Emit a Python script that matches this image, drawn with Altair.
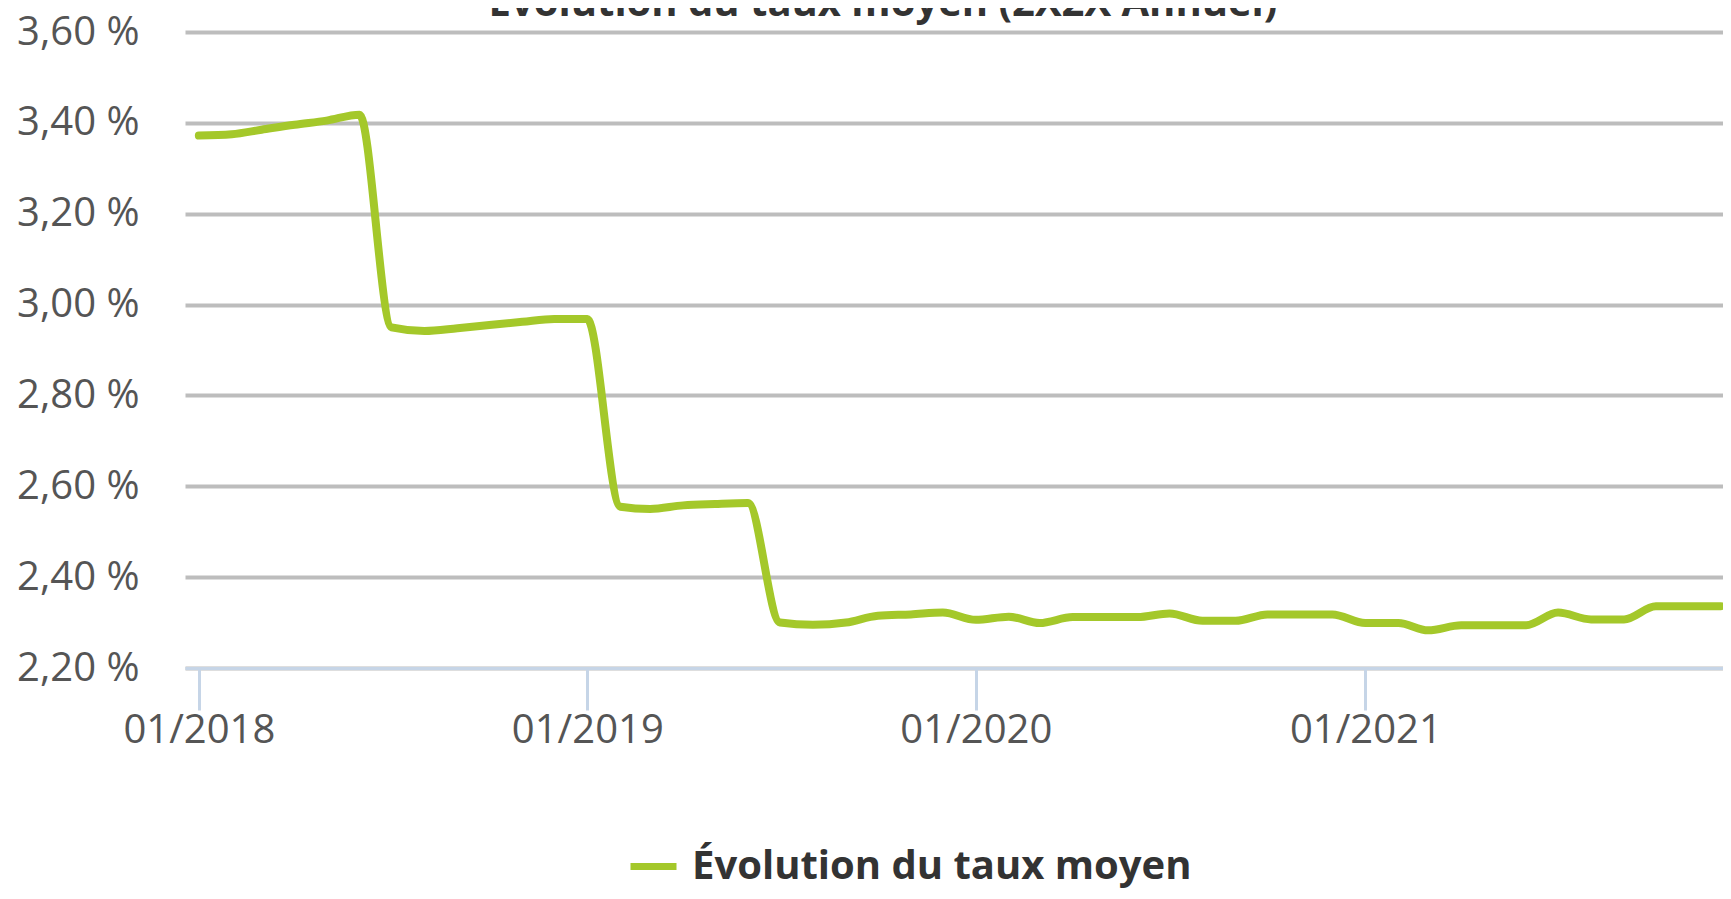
import altair as alt
import pandas as pd

# --- data (monthly average rate, %) ---
months = pd.date_range("2018-01-01", periods=48, freq="MS").strftime("%Y-%m-%d").tolist()
rates = [3.372, 3.375, 3.385, 3.396, 3.405, 3.418, 2.950, 2.942, 2.948, 2.955, 2.962, 2.968,
         2.968, 2.555, 2.550, 2.558, 2.561, 2.563, 2.300, 2.295, 2.300, 2.315, 2.318, 2.322,
         2.306, 2.313, 2.299, 2.312, 2.312, 2.312, 2.320, 2.304, 2.304, 2.318, 2.318, 2.318,
         2.299, 2.299, 2.283, 2.294, 2.294, 2.294, 2.322, 2.307, 2.307, 2.336, 2.336, 2.336]
series_name = "Évolution du taux moyen"
title_text = "Évolution du taux moyen (2X2X Annuel)"
y_ticks = [2.2, 2.4, 2.6, 2.8, 3.0, 3.2, 3.4, 3.6]
x_tick_years = [2018, 2019, 2020, 2021]

df = pd.DataFrame({"date": months, "taux": rates, "serie": [series_name] * len(rates)})
title_df = pd.DataFrame({"titre": [title_text]})

FONT = "Open Sans"
GREEN = "#a4c82a"
AXIS_BLUE = "#c6d5e7"

line = alt.Chart(df).mark_line(
    strokeWidth=8, interpolate="monotone", strokeCap="round", strokeJoin="round"
).encode(
    x=alt.X(
        "date:T",
        title=None,
        scale=alt.Scale(
            type="utc",
            domain=[alt.DateTime(year=2017, month=12, date=19, utc=True),
                    alt.DateTime(year=2021, month=12, date=3, utc=True)],
        ),
        axis=alt.Axis(
            values=[alt.DateTime(year=y, month=1, date=1, utc=True) for y in x_tick_years],
            labelExpr="utcFormat(datum.value, '%m/%Y')",
            grid=False,
            domainColor=AXIS_BLUE, domainWidth=3,
            tickColor=AXIS_BLUE, tickWidth=3, tickSize=42,
            labelPadding=0, labelFontSize=40, labelFont=FONT, labelColor="#555555",
            labelBaseline="top", labelLimit=0,
        ),
    ),
    y=alt.Y(
        "taux:Q",
        title=None,
        scale=alt.Scale(domain=[2.2, 3.6], nice=False, zero=False),
        axis=alt.Axis(
            values=y_ticks,
            labelExpr="replace(format(datum.value, '.2f'), '.', ',') + ' %'",
            grid=True, gridColor="#bdbdbd", gridWidth=4,
            domain=False, ticks=False,
            labelPadding=46, labelFontSize=40, labelFont=FONT, labelColor="#555555",
            labelLimit=0,
        ),
    ),
    color=alt.Color(
        "serie:N",
        scale=alt.Scale(range=[GREEN]),
        legend=alt.Legend(
            orient="none", legendX=442, legendY=808, title=None,
            symbolType="stroke", symbolSize=2116, symbolStrokeWidth=7,
            labelFontSize=40, labelFont=FONT, labelFontWeight="bold",
            labelColor="#333333", labelOffset=12, labelLimit=0,
        ),
    ),
)

# chart title, partly cut off by the top edge as in the reference
title = alt.Chart(title_df).mark_text(
    font=FONT, fontSize=40, fontWeight="bold", color="#333333",
    align="center", baseline="alphabetic",
).encode(text="titre:N", x=alt.value(698), y=alt.value(-16))

chart = alt.layer(line, title).properties(
    width=1538,
    height=636,
    autosize=alt.AutoSizeParams(type="none"),
    padding={"left": 177, "top": 24, "right": 0, "bottom": 223},
).configure_view(stroke=None)

chart.save("out.html", embed_options={"renderer": "svg", "actions": False})
